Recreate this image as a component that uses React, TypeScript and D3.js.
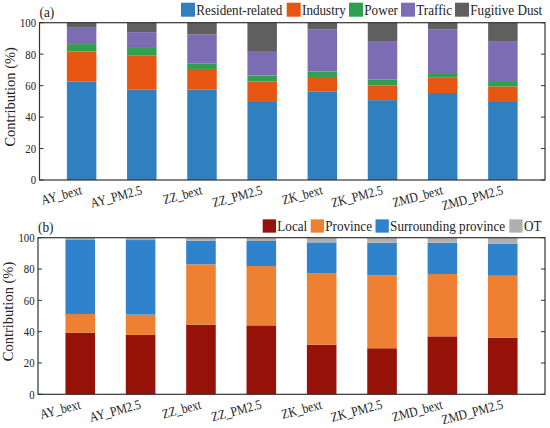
import React from "react";
import * as d3 from "d3";

const categories = ["AY_bext", "AY_PM2.5", "ZZ_bext", "ZZ_PM2.5", "ZK_bext", "ZK_PM2.5", "ZMD_bext", "ZMD_PM2.5"];

// Panel (a): source contributions (%)
const sourceNames = ["Resident-related", "Industry", "Power", "Traffic", "Fugitive Dust"];
const residentRelated = [62.5, 57.6, 57.6, 49.6, 56.4, 50.8, 55.3, 49.6];
const industry = [19.1, 21.4, 13.0, 13.1, 9.1, 9.4, 9.7, 9.9];
const power = [4.8, 5.5, 3.6, 3.8, 3.4, 3.6, 3.0, 3.4];
const traffic = [10.4, 9.5, 18.4, 15.5, 26.9, 24.5, 27.8, 25.4];
const fugitiveDust = [3.2, 6.0, 7.4, 18.0, 4.2, 11.7, 4.2, 11.7];
const sourceColors = ["#3080C0", "#E65512", "#2EA04E", "#7B6CB4", "#5F5F5F"];

// Panel (b): regional contributions (%)
const regionNames = ["Local", "Province", "Surrounding province", "OT"];
const local = [39.4, 37.9, 44.5, 44.0, 31.7, 29.4, 37.0, 36.2];
const province = [11.9, 13.0, 38.5, 37.9, 45.7, 46.6, 39.8, 39.5];
const surrounding = [47.6, 47.6, 15.1, 16.0, 19.6, 20.8, 20.0, 20.5];
const ot = [1.1, 1.5, 1.9, 2.1, 3.0, 3.2, 3.2, 3.8];
const regionColors = ["#961208", "#EE8033", "#2F83CC", "#AFAFAF"];

const yTicks = [0, 20, 40, 60, 80, 100];

const FONT = "Liberation Serif";
const SX = 0.86; // horizontal squeeze of the reference's text
const txt = (size: number): React.CSSProperties => ({ fontFamily: FONT, fontSize: size });

type PanelProps = {
  top: number;
  bottom: number;
  left: number;
  right: number;
  series: number[][];
  colors: string[];
  names: string[];
  label: string;
  legendX: number[];
  legendY: number;
  swatch: number;
};

function Panel({ top, bottom, left, right, series, colors, names, label, legendX, legendY, swatch }: PanelProps) {
  const x = d3.scalePoint<string>().domain(categories).range([left, right]).padding(0.7);
  const y = d3.scaleLinear().domain([0, 100]).range([bottom, top]);
  const step = x.step();
  const bw = step * 0.49;
  const table = categories.map((c, i) => {
    const row: any = { cat: c };
    names.forEach((n, k) => (row[n] = series[k][i]));
    return row;
  });
  const stacked = d3.stack<any>().keys(names)(table);
  return (
    <g>
      {stacked.map((layer, k) => (
        <g key={k} fill={colors[k]}>
          {layer.map((d, i) => (
            <rect
              key={i}
              x={(x(categories[i]) as number) - bw / 2}
              y={y(Math.min(d[1], 100))}
              width={bw}
              height={y(d[0]) - y(Math.min(d[1], 100))}
            />
          ))}
        </g>
      ))}
      <rect x={left} y={top} width={right - left} height={bottom - top} fill="none" stroke="#333" strokeWidth={1.2} />
      {yTicks.map((t) => (
        <g key={t}>
          <line x1={left} x2={left + 4} y1={y(t)} y2={y(t)} stroke="#333" />
          <line x1={right} x2={right - 4} y1={y(t)} y2={y(t)} stroke="#333" />
          <text
            transform={`translate(${left - 3.5},${y(t)}) scale(${SX},1)`}
            dy="0.35em"
            textAnchor="end"
            style={txt(12.5)}
            fill="#222"
          >
            {t}
          </text>
        </g>
      ))}
      {categories.map((c) => (
        <text
          key={c}
          transform={`translate(${(x(c) as number) + 1},${bottom + 14}) rotate(-15) scale(${SX},1)`}
          textAnchor="end"
          style={txt(13.5)}
          fill="#222"
        >
          {c}
        </text>
      ))}
      <text
        transform={`translate(${left - 25},${(top + bottom) / 2 - 4.5}) rotate(-90)`}
        textAnchor="middle"
        style={txt(14.5)}
        fill="#222"
      >
        Contribution (%)
      </text>
      <text transform={`translate(${left},${top - 5.5}) scale(${SX},1)`} style={txt(15.5)} fill="#222">
        {label}
      </text>
      {names.map((n, k) => (
        <g key={n}>
          <rect x={legendX[k]} y={legendY - swatch / 2} width={swatch} height={swatch} fill={colors[k]} />
          <text
            transform={`translate(${legendX[k] + swatch + 1.3},${legendY}) scale(${SX},1)`}
            dy="0.34em"
            style={txt(15.3)}
            fill="#222"
          >
            {n}
          </text>
        </g>
      ))}
    </g>
  );
}

export default function App() {
  return (
    <svg width={550} height={428} style={{ position: "absolute", left: 0, top: 0, background: "#fff" }}>
      <Panel
        top={22.7}
        bottom={180}
        left={39.5}
        right={545}
        series={[residentRelated, industry, power, traffic, fugitiveDust]}
        colors={sourceColors}
        names={sourceNames}
        label="(a)"
        legendX={[181, 286.7, 349, 401, 455]}
        legendY={9.7}
        swatch={14}
      />
      <Panel
        top={237.7}
        bottom={394.3}
        left={38}
        right={545}
        series={[local, province, surrounding, ot]}
        colors={regionColors}
        names={regionNames}
        label="(b)"
        legendX={[262.7, 310.7, 375.5, 509.3]}
        legendY={226}
        swatch={13.3}
      />
    </svg>
  );
}
